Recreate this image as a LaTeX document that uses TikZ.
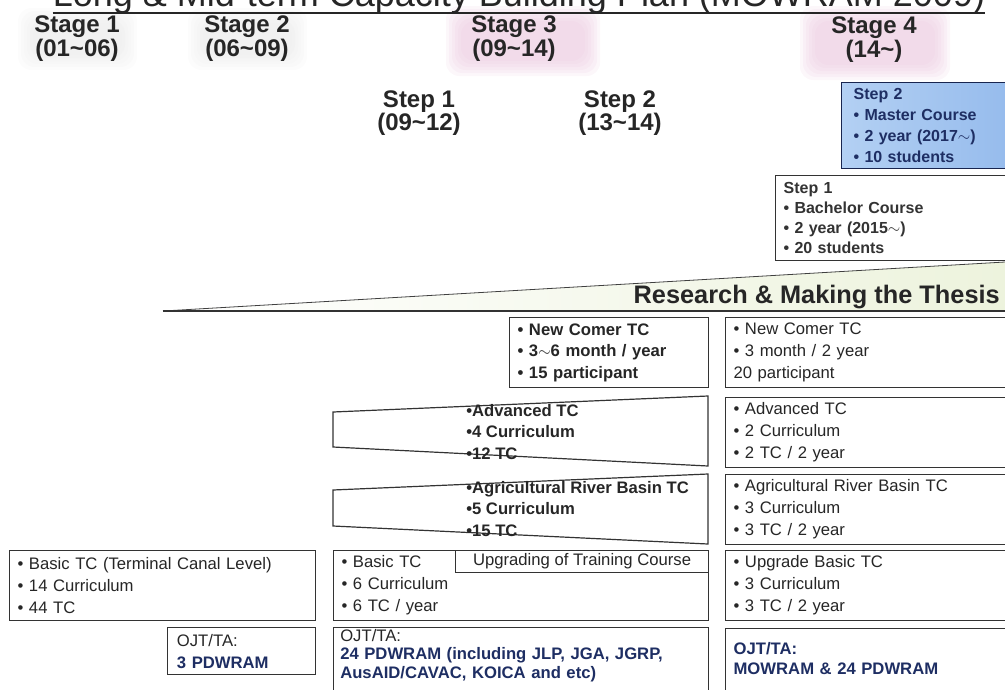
\documentclass[tikz,border=0pt]{standalone}
\usepackage{fontspec}
\setmainfont{Liberation Sans}
\usetikzlibrary{positioning}

\definecolor{inkgray}{HTML}{262626}
\definecolor{ojtnavy}{HTML}{1E2E63}
\definecolor{masterblue}{HTML}{B3D0F3}
\definecolor{masterblueR}{HTML}{8AB3EA}
\definecolor{stagepink}{HTML}{E9C3DC}
\definecolor{stagegray}{HTML}{D6D6D6}
\definecolor{thesisgreen}{HTML}{EDF3DD}

\newcommand{\bul}{•\ }

\tikzset{
  every node/.style={text=inkgray},
  stagehead/.style={font=\bfseries\fontsize{18}{15.75}\selectfont, align=center, inner sep=0pt},
  glowpink/.style={stagepink, opacity=.14, rounded corners=10pt},
  glowgray/.style={stagegray, opacity=.07, rounded corners=10pt},
  tcbox/.style={draw=black!80, line width=.9pt, anchor=north west, align=left, inner xsep=6pt, inner ysep=0pt,
    fill=white, font=\fontsize{12.5}{16.5}\selectfont},
  boldtc/.style={font=\bfseries\fontsize{12.5}{16}\selectfont},
  stepbox/.style={draw=black!80, line width=.9pt, anchor=north west, align=left, inner xsep=6pt, inner ysep=0pt,
    font=\bfseries\fontsize{12}{15}\selectfont},
  stageline/.style={draw=black!80, line width=.9pt},
}

\begin{document}
\begin{tikzpicture}[x=0.75pt,y=-0.75pt]
  \useasboundingbox (0,0) rectangle (1005,689);
  \clip (0,0) rectangle (1005,689);

  \foreach \g in {0,3,...,15} {
    \fill[glowgray] (18+\g,8+\g) rectangle (137-\g,70-\g);
    \fill[glowgray] (188+\g,8+\g) rectangle (307-\g,70-\g);
    \fill[glowpink] (446+\g,6+\g) rectangle (600-\g,76-\g);
    \fill[glowpink] (800+\g,6+\g) rectangle (950-\g,80-\g);
  }

  \node[font=\fontsize{27}{30}\selectfont, anchor=base, inner sep=0pt] (title) at (519,6)
    {Long \& Mid-term Capacity Building Plan (MOWRAM 2009)};
  \draw[line width=1.4pt, inkgray] ([yshift=-5pt]title.base west) -- ([yshift=-5pt]title.base east);

  \node[stagehead] (stage1) at (77,39) {Stage 1\\(01\textasciitilde06)};
  \node[stagehead] (stage2) at (247,39) {Stage 2\\(06\textasciitilde09)};
  \node[stagehead] (stage3) at (514,39) {Stage 3\\(09\textasciitilde14)};
  \node[stagehead] (stage4) at (874,40) {Stage 4\\(14\textasciitilde)};
  \node[stagehead] (step1) at (419,113) {Step 1\\(09\textasciitilde12)};
  \node[stagehead] (step2) at (620,113) {Step 2\\(13\textasciitilde14)};

  \node[stepbox, draw=ojtnavy!80!black, left color=masterblue, right color=masterblueR, text=ojtnavy,
    text width=160pt, inner xsep=9pt, minimum height=64.5pt, font=\bfseries\fontsize{12}{15.75}\selectfont] (master) at (841,82)
    {Step 2\\\bul Master Course\\\bul 2 year (2017$\sim$)\\\bul 10 students};
  \node[stepbox, fill=white, text=black!80, text width=200pt, minimum height=63.75pt] (bachelor) at (775,175)
    {Step 1\\\bul Bachelor Course\\\bul 2 year (2015$\sim$)\\\bul 20 students};

  \shade[left color=white, right color=thesisgreen] (163,311) -- (1005,262) -- (1005,311) -- cycle;
  \draw[line width=.6pt, black!75] (163,311) -- (1005,262);
  \draw[line width=1.1pt, black!80] (163,311) -- (1005,311);
  \node[font=\bfseries\fontsize{19}{20}\selectfont, anchor=base east, inner sep=0pt] (thesis) at (1000,303)
    {Research \& Making the Thesis};

  \node[tcbox, boldtc, text width=137pt, minimum height=52.5pt] (nc3) at (509,317)
    {\bul New Comer TC\\\bul 3$\sim$6 month / year\\\bul 15 participant};
  \node[tcbox, text width=240pt, minimum height=52.5pt] (nc4) at (725,317)
    {\bul New Comer TC\\\bul 3 month / 2 year\\20 participant};

  \draw[stageline] (333,412) -- (708,396) -- (708,466) -- (333,447) -- cycle;
  \node[boldtc, anchor=north west, align=left, inner sep=0pt] (adv3) at (466,404)
    {•Advanced TC\\•4 Curriculum\\•12 TC};
  \node[tcbox, text width=240pt, minimum height=52.5pt] (adv4) at (725,397)
    {\bul Advanced TC\\\bul 2 Curriculum\\\bul 2 TC / 2 year};

  \draw[stageline] (333,490) -- (708,474) -- (708,544) -- (333,526) -- cycle;
  \node[boldtc, anchor=north west, align=left, inner sep=0pt] (agr3) at (466,481)
    {•Agricultural River Basin TC\\•5 Curriculum\\•15 TC};
  \node[tcbox, text width=240pt, minimum height=52.5pt] (agr4) at (725,474)
    {\bul Agricultural River Basin TC\\\bul 3 Curriculum\\\bul 3 TC / 2 year};

  \node[tcbox, text width=217.5pt, minimum height=52.5pt] (basic1) at (9,550)
    {\bul Basic TC (Terminal Canal Level)\\\bul 14 Curriculum\\\bul 44 TC};
  \node[tcbox, text width=269.25pt, minimum height=52.5pt] (basic2) at (333,550)
    {\bul Basic TC\\\bul 6 Curriculum\\\bul 6 TC / year};
  \node[tcbox, align=center, inner sep=0pt, minimum width=189.75pt, minimum height=16.5pt] (upgrade) at (455,550)
    {Upgrading of Training Course};
  \node[tcbox, text width=240pt, minimum height=52.5pt] (basic4) at (725,550)
    {\bul Upgrade Basic TC\\\bul 3 Curriculum\\\bul 3 TC / 2 year};

  \node[tcbox, text width=97pt, inner xsep=7pt, minimum height=35.25pt] (ojt1) at (167,627)
    {OJT/TA:\\\color{ojtnavy}\bfseries 3 PDWRAM};
  \node[tcbox, text width=271.25pt, inner xsep=5pt, inner ysep=1pt, text depth=60pt,
    font=\fontsize{12.5}{14}\selectfont] (ojt2) at (333,627)
    {OJT/TA:\\\color{ojtnavy}\bfseries 24 PDWRAM (including JLP, JGA, JGRP,\\AusAID/CAVAC, KOICA and etc)};
  \node[tcbox, text width=240pt, inner ysep=10.5pt, text depth=50pt, text=ojtnavy,
    font=\bfseries\fontsize{12.5}{15}\selectfont] (ojt4) at (725,628)
    {OJT/TA:\\MOWRAM \& 24 PDWRAM};
\end{tikzpicture}
\end{document}
